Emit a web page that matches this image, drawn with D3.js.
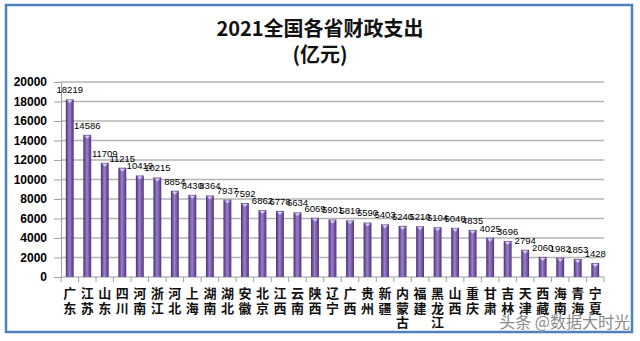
<!DOCTYPE html>
<html>
<head>
<meta charset="utf-8">
<script src="https://cdn.jsdelivr.net/npm/d3@7/dist/d3.min.js"></script>
<style>
  html, body { margin: 0; padding: 0; background: #fff; }
  svg { display: block; }
</style>
</head>
<body>
<svg id="chart" width="640" height="341"></svg>
<script>
// 2021 provincial fiscal expenditure (100 million yuan)
const provinces = ["广东","江苏","山东","四川","河南","浙江","河北","上海","湖南","湖北","安徽","北京","江西","云南","陕西","辽宁","广西","贵州","新疆","内蒙古","福建","黑龙江","山西","重庆","甘肃","吉林","天津","西藏","海南","青海","宁夏"];
const spending = [18219,14586,11709,11215,10419,10215,8854,8430,8364,7937,7592,6862,6778,6634,6069,5901,5810,5590,5403,5240,5210,5104,5048,4835,4025,3696,2794,2060,1982,1853,1428];
const yTicks = [0,2000,4000,6000,8000,10000,12000,14000,16000,18000,20000];
const titleLines = ["2021全国各省财政支出", "(亿元)"];
const watermark = "头条 @数据大时光";

const svg = d3.select("#chart");
const plot = { left: 61, right: 604, top: 82, bottom: 277 };

// gradient that gives the bars a rounded, cylinder look
const defs = svg.append("defs");
const grad = defs.append("linearGradient").attr("id", "barFill")
  .attr("x1", "0%").attr("x2", "100%").attr("y1", "0%").attr("y2", "0%");
grad.append("stop").attr("offset", "0%").attr("stop-color", "#4a2c7c");
grad.append("stop").attr("offset", "45%").attr("stop-color", "#9c80c8");
grad.append("stop").attr("offset", "100%").attr("stop-color", "#4f3280");

// outer frame
svg.append("rect")
  .attr("x", 6).attr("y", 5).attr("width", 626).attr("height", 327)
  .attr("fill", "#fff").attr("stroke", "#4f81bd").attr("stroke-width", 2.5);

// title
svg.append("g").selectAll("text").data(titleLines).join("text")
  .attr("x", 320).attr("y", (d, i) => 36 + i * 26)
  .attr("text-anchor", "middle")
  .attr("font-family", "'Noto Sans CJK SC', 'Liberation Sans', sans-serif")
  .attr("font-weight", "bold").attr("font-size", 20)
  .attr("fill", "#111")
  .text(d => d);

const x = d3.scaleBand().domain(provinces).range([plot.left, plot.right])
  .paddingInner(0.55).paddingOuter(0.275);
const y = d3.scaleLinear().domain([0, 20000]).range([plot.bottom, plot.top]);

// gridlines
svg.append("g").selectAll("line").data(yTicks.filter(t => t > 0)).join("line")
  .attr("x1", plot.left).attr("x2", plot.right)
  .attr("y1", d => y(d)).attr("y2", d => y(d))
  .attr("stroke", "#b4b4b4").attr("stroke-width", 1.5);

// y axis
const yAxis = svg.append("g")
  .attr("transform", `translate(${plot.left},0)`)
  .call(d3.axisLeft(y).tickValues(yTicks).tickSize(7).tickPadding(7).tickFormat(d3.format("d")));
yAxis.select(".domain").attr("stroke", "#a0a0a0");
yAxis.selectAll(".tick line").attr("stroke", "#a0a0a0");
yAxis.selectAll("text")
  .attr("font-family", "'Liberation Sans', Arial, sans-serif")
  .attr("font-weight", "bold").attr("font-size", 12).attr("fill", "#000");

// x axis with ticks between categories
const step = x.step();
const xAxisG = svg.append("g");
xAxisG.append("line")
  .attr("x1", plot.left).attr("x2", plot.right)
  .attr("y1", plot.bottom).attr("y2", plot.bottom)
  .attr("stroke", "#a0a0a0");
xAxisG.selectAll("line.sep").data(d3.range(provinces.length + 1)).join("line")
  .attr("class", "sep")
  .attr("x1", i => plot.left + i * step).attr("x2", i => plot.left + i * step)
  .attr("y1", plot.bottom).attr("y2", plot.bottom + 5)
  .attr("stroke", "#a0a0a0");

// bars
const bars = svg.append("g");
bars.selectAll("rect").data(provinces).join("rect")
  .attr("x", d => x(d))
  .attr("y", (d, i) => y(spending[i]))
  .attr("width", x.bandwidth())
  .attr("height", (d, i) => plot.bottom - y(spending[i]))
  .attr("fill", "url(#barFill)");
// lighter cap on each bar top
bars.selectAll("path.cap").data(provinces).join("path")
  .attr("class", "cap")
  .attr("d", (d, i) => {
    const x0 = x(d), w = x.bandwidth(), t = y(spending[i]);
    return `M${x0 + 1},${t + 1}L${x0 + w - 1},${t + 1}L${x0 + w / 2},${t + 4}Z`;
  })
  .attr("fill", "#d8cbef");

// value labels
svg.append("g").selectAll("text").data(provinces).join("text")
  .attr("x", d => x(d) + x.bandwidth() / 2)
  .attr("y", (d, i) => y(spending[i]) - 6)
  .attr("text-anchor", "middle")
  .attr("font-family", "'Liberation Sans', Arial, sans-serif")
  .attr("font-size", 9.5).attr("fill", "#000")
  .text((d, i) => spending[i]);

// category labels stacked vertically, one character per row
const catG = svg.append("g");
provinces.forEach(p => {
  const cx = x(p) + x.bandwidth() / 2;
  catG.selectAll(null).data(Array.from(p)).join("text")
    .attr("x", cx)
    .attr("y", (c, j) => 298 + j * 14.5)
    .attr("text-anchor", "middle")
    .attr("font-family", "'Noto Sans CJK SC', sans-serif")
    .attr("font-weight", "bold").attr("font-size", 13).attr("fill", "#111")
    .text(c => c);
});

// watermark
svg.append("text")
  .attr("x", 630).attr("y", 328)
  .attr("text-anchor", "end")
  .attr("font-family", "'Noto Sans CJK SC', sans-serif")
  .attr("font-size", 16).attr("fill", "#8a8a8a")
  .attr("stroke", "#fff").attr("stroke-width", 0.6)
  .attr("paint-order", "stroke")
  .text(watermark);
</script>
</body>
</html>
